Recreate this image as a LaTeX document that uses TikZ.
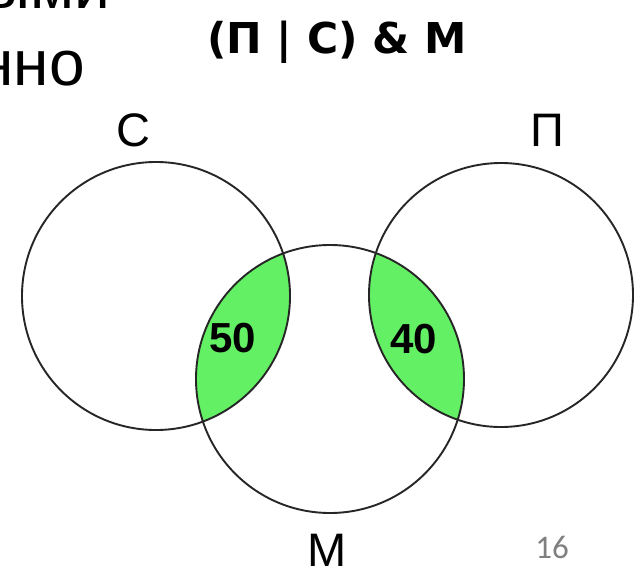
\documentclass[tikz,border=0pt]{standalone}
\usepackage{fontspec}
\setmainfont{Liberation Sans}
\newfontfamily\titlefont{DejaVu Sans}
\newfontfamily\slidefont{Carlito}
\usetikzlibrary{positioning}
\definecolor{venngreen}{RGB}{100,240,100}
\definecolor{pagegray}{RGB}{128,128,128}

\begin{document}
\begin{tikzpicture}[
  x=1pt, y=-1pt,
  setcircle/.style={
    circle,
    draw=black!85,
    line width=1.9pt,
    minimum size=268pt,
    inner sep=0pt
  },
  lens/.style={fill=venngreen},
  setlabel/.style={font=\fontsize{47}{47}\selectfont, inner sep=0pt},
  countlabel/.style={font=\fontsize{42}{42}\selectfont\bfseries, inner sep=0pt},
  slidetext/.style={font=\fontsize{64}{64}\selectfont, inner sep=0pt, anchor=base east},
  titlebox/.style={font=\titlefont\fontsize{42.5}{42.5}\selectfont\bfseries, inner sep=0pt, anchor=base}
]
\clip (0,0) rectangle (634,565);
\fill[white] (0,0) rectangle (634,565);

% centres of the three sets
\coordinate (pS) at (156,296);
\coordinate (pP) at (501,295);
\coordinate (pM) at (330,379);

% shaded lenses
\begin{scope}
  \clip (pS) circle[radius=134pt];
  \fill[lens] (pM) circle[radius=134pt];
\end{scope}
\begin{scope}
  \clip (pP) circle[radius=132pt];
  \fill[lens] (pM) circle[radius=134pt];
\end{scope}

\node[setcircle] (S) at (pS) {};
\node[setcircle, minimum size=264pt] (P) at (pP) {};
\node[setcircle] (M) at (pM) {};

\node[setlabel] (labS) at (133,130) {С};
\node[setlabel] (labP) at (547,130) {П};
\node[setlabel, anchor=base] (labM) at (327,566) {М};

\node[countlabel] (cntSM) at (233,338) {50};
\node[countlabel] (cntPM) at (414,339) {40};

\node[titlebox] (title) at (337,53) {(П | С) \& М};

\node[slidetext] (line1) at (110,8) {зыми};
\node[slidetext] (line2) at (85,85) {нно};
\node[font=\slidefont\fontsize{33}{33}\selectfont, text=pagegray, inner sep=0pt] (page) at (552,547) {16};
\end{tikzpicture}
\end{document}
